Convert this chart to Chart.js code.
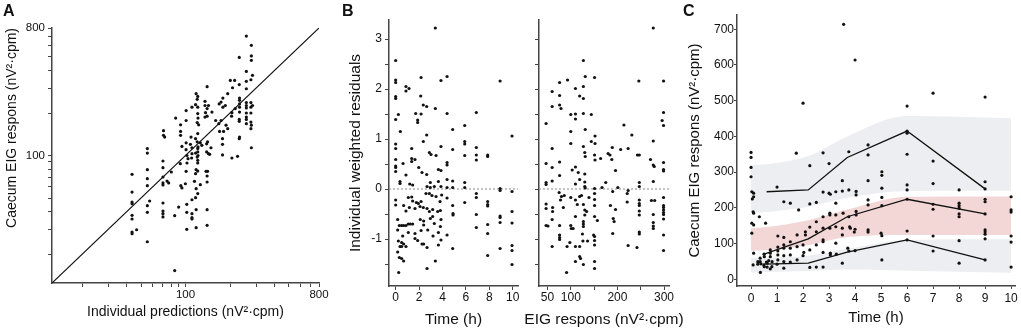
<!DOCTYPE html>
<html>
<head>
<meta charset="utf-8">
<script src="https://cdn.jsdelivr.net/npm/chart.js@4/dist/chart.umd.min.js"></script>
<style>
  html, body { margin: 0; padding: 0; background: #fff; }
  #wrap { position: relative; width: 1021px; height: 331px; overflow: hidden; font-family: "Liberation Sans", Arial, sans-serif; }
  #wrap canvas { position: absolute; left: 0; top: 0; }
  .tag { position: absolute; top: 3px; font-size: 16px; line-height: 16px; font-weight: bold; color: #111; }
</style>
</head>
<body>
<div id="wrap">
  <canvas id="chartA" width="1021" height="331"></canvas>
  <canvas id="chartB1" width="1021" height="331"></canvas>
  <canvas id="chartB2" width="1021" height="331"></canvas>
  <canvas id="chartC" width="1021" height="331"></canvas>
  <div class="tag" style="left:3px">A</div>
  <div class="tag" style="left:342px">B</div>
  <div class="tag" style="left:683px">C</div>
</div>
<script>
const FONT = "'Liberation Sans', Arial, sans-serif"
const INK = "#111"
const AXIS = "#444"

// ---- A: observed vs individual predictions (log axes) ----
const aRange = [12.5, 800]
const aTicks = [20, 30, 40, 50, 60, 70, 80, 90, 100, 200, 300, 400, 500, 600, 700, 800]
const aTickLabels = [100, 800]
const aPoints = [
  [43.5,73.6],[43.5,55.1],[43.5,46.8],[43.5,45.6],[43.5,37.7],[43.5,35.5],[43.5,28.7],[43.5,27.9],[46.7,29.8],
  [55.2,112],[55.2,104],[55.2,79.4],[55.2,68.5],[55.2,61.1],[55.2,44.1],[55.2,39.6],[55.2,24.5],[57.2,47.6],
  [71,150],[71,139],[72.3,135],[70.4,91.4],[70.4,82],[70.4,70.4],[70.4,63.9],[70.4,61.8],[70.4,46.1],[70.4,40.4],
  [70.4,38.7],[70.4,36.7],[75,65.9],[76.9,63.9],[80.2,76.4],[85.8,184],[84.5,37.5],[84.5,15.3],
  [92.6,165],[92.6,148],[92.6,139],[92.2,87.5],[93,61.1],[94.6,58.9],[89.9,43.1],[94.6,116],
  [101,177],[101,208],[99.8,63.1],[101,123],[100.9,110],[102.3,100],[104,95],[102.3,88.5],[101,77.3],[102,45.1],
  [102,39.6],[102,30],[109,135],[108,120],[110.6,113.5],[110.6,103],[110,96],[110.6,220],[110.6,48.6],[110.6,38.7],
  [110.6,36.3],[110.6,35.5],[117,131.5],[120,171],[122.7,165],[121,143],[120,125],[121,112],[121.5,115],[117,104],
  [121,106],[120,97.5],[121.5,100],[121,92.4],[121,88.5],[118,79.4],[121,77.6],[117,74.3],[115,65.6],[118,58.2],
  [121,53.7],[117,50.3],[118,41.3],[118,30.8],[118,274],[121,262],[120,250],[117,229],[121,220],[121,198],[121.5,184],
  [126,123],[129,118],[126,62.1],[135.5,242],[135.5,226],[136.6,201],[135.5,187],[140,190],[140,215],[143,226],
  [140,307],[139,121],[141,125],[139,106],[143,103],[145.7,102],[137.7,77.3],[141,77.3],[140,71.6],[140,64.9],
  [140,41.3],[140,32],[148.7,113.5],[151,203],[160,177],[168,168],[174,177],[170,148],[181,148],[178,131.5],
  [178,120],[178,101],[179,255],[174,239],[169,232],[179,220],[186,226],[188,164],[193,155],[193,274],
  [201,340],[215,340],[208,302],[217,215],[206,201],[205,190],[206,96],[225,98.6],
  [231,495],[231,318],[232,255],[232,246],[232,232],[232,220],[232,203],[231,180],[231,174.5],[232,135],[231,131.5],
  [258,701],[258,394],[258,335],[258,297],[258,237],[258,226],[258,217],[258,200],[258,187],[258,180],[258,168],
  [279,603],[279,507],[279,472],[277,344],[284,370],[277,237],[277,220],[284,226],[277,200],[277,172.6],[279,164],
  [277,155],[279,113.5]
]

// ---- B: individual weighted residuals ----
const bResRange = [-1.94, 3.38]
const bResTicks = [-1.5, -1, -0.5, 0, 0.5, 1, 1.5, 2, 2.5, 3]
const bResLabels = [-1, 0, 1, 2, 3]
const bTimeRange = [-0.57, 10.45]
const bTimeTicks = [0, 2, 4, 6, 8, 10]
const bEigRange = [31.8, 310.7]
const bEigTicks = [50, 100, 150, 200, 250, 300]
const bEigLabels = [50, 100, 200, 300]
const bByTime = [
  [3.39,3.22],[0,2.57],[0,2.18],[0,2.13],[0.88,2.05],[0.88,1.96],[1.14,2.01],[2.17,2.23],[3.87,2.17],[4.39,2.25],[8.92,2.16],
  [0,1.85],[0,1.81],[2.14,1.86],[2.36,1.68],[2.65,1.65],[3.39,1.61],[4.39,1.51],[6.89,1.53],[0.23,1.49],[0,1.39],
  [1.71,1.51],[1.88,1.38],[1.88,1.33],[2.17,1.5],[0.4,1.15],[4.87,1.19],[5.9,1.27],[9.94,1.06],[2.65,1.08],[2.36,0.95],
  [0,0.9],[0,0.81],[1.37,0.81],[3.87,0.85],[4.87,0.79],[5.9,0.95],[5.9,0.9],[6.89,0.83],[6.89,0.68],[6.89,0.58],
  [7.86,0.68],[7.86,0.65],[2.88,0.73],[3.02,0.69],[3.45,0.67],[5.9,0.67],[0,0.59],[0,0.46],[0,0.43],[0.63,0.51],
  [1.37,0.61],[1.37,0.55],[1.65,0.59],[1.97,0.43],[2.25,0.33],[2.65,0.29],[3.65,0.39],[3.87,0.37],[4.39,0.53],[4.39,0.48],
  [0,0.35],[0.88,0.28],[0.37,0.15],[0.37,0.11],[1.2,0.1],[1.45,0.08],[2.96,0.13],[3.65,0.15],[4.39,0.19],[4.87,0.16],
  [5.9,0.13],[5.9,0.03],[2.68,0.05],[2.96,0.03],[3.3,0.05],[3.87,0.05],[4.39,0.03],[4.87,0.03],[8.92,0.01],[8.92,-0.03],
  [9.94,-0.05],[0,-0.22],[0,-0.32],[0.68,-0.33],[1.08,-0.17],[1.37,-0.16],[1.45,-0.24],[1.77,-0.27],[1.94,-0.29],[2.17,-0.25],
  [2.59,-0.09],[2.88,-0.09],[3.1,-0.13],[3.45,-0.15],[3.79,-0.25],[3.93,-0.12],[4.39,-0.18],[4.87,-0.33],[5.9,-0.27],
  [6.89,-0.09],[6.89,-0.17],[7.86,-0.25],[7.86,-0.31],[7.86,-0.34],[0.88,-0.44],[1.17,-0.37],[1.65,-0.39],[2.08,-0.35],
  [2.36,-0.37],[2.68,-0.39],[2.88,-0.45],[3.16,-0.41],[3.59,-0.45],[3.82,-0.43],[4.9,-0.49],[4.9,-0.52],[6.89,-0.51],
  [8.92,-0.54],[8.92,-0.57],[9.94,-0.45],[0.17,-0.61],[0.31,-0.73],[0.51,-0.73],[0.68,-0.73],[0.88,-0.73],[1.08,-0.7],
  [1.25,-0.7],[1.45,-0.7],[2.1,-0.61],[2.39,-0.64],[2.39,-0.72],[2.96,-0.59],[3.16,-0.55],[3.3,-0.69],[3.87,-0.61],
  [3.82,-0.75],[7.86,-0.71],[8.92,-0.67],[9.94,-0.68],[0.17,-0.82],[0.6,-0.94],[1.08,-0.87],[1.65,-0.89],[2.17,-0.83],
  [2.74,-0.82],[3.19,-0.94],[3.65,-0.87],[4.39,-0.92],[6.89,-0.77],[7.86,-0.89],[0.23,-1.04],[0.51,-1.07],[0.68,-1.1],
  [0.37,-1.15],[0.51,-1.15],[0.88,-1.15],[1.65,-0.99],[1.88,-1.03],[2.25,-1.1],[2.39,-1.1],[2.68,-1.17],[3.87,-1.02],
  [3.65,-1.12],[4.87,-1.19],[8.92,-1.19],[9.94,-1.13],[9.94,-1.23],[0.17,-1.26],[0.31,-1.37],[0.51,-1.39],[0.68,-1.44],
  [2.68,-1.59],[3.39,-1.44],[7.86,-1.33],[9.94,-1.51],[0.26,-1.67]
]
const bByEig = [
  [277,3.22],[127,2.57],[131,2.25],[151,2.23],[93,2.18],[76,2.13],[246,2.16],[299,2.16],[60,1.95],[110,2.01],[127,2.05],
  [76,1.87],[119,1.86],[127,1.81],[60,1.65],[76,1.68],[79,1.61],[100,1.49],[110,1.5],[110,1.4],[127,1.51],[144,1.49],
  [47,1.31],[214,1.28],[299,1.53],[296,1.37],[299,1.27],[100,1.15],[131,1.19],[231,1.08],[152,1.06],[60,0.81],[100,0.91],
  [144,0.95],[152,0.91],[127,0.85],[277,0.96],[130,0.73],[131,0.65],[151,0.68],[152,0.58],[164,0.61],[180,0.71],[184,0.68],
  [188,0.59],[189,0.83],[207,0.79],[223,0.81],[243,0.68],[247,0.68],[271,0.59],[277,0.48],[279,0.45],[299,0.53],[299,0.39],
  [299,0.36],[196,0.37],[47,0.51],[60,0.43],[76,0.54],[76,0.27],[103,0.38],[110,0.44],[116,0.33],[130,0.3],[130,0.14],
  [130,0.05],[131,0.02],[47,0.13],[47,0.09],[60,0.16],[110,0.1],[119,0.19],[151,0.01],[151,-0.09],[167,0.03],[175,0.13],
  [201,0.03],[190,-0.05],[223,-0.03],[221,-0.09],[247,0.13],[247,0.05],[277,0.15],[75,-0.07],[80,-0.15],[78,-0.22],
  [86,-0.13],[47,-0.3],[47,-0.39],[61,-0.37],[61,-0.45],[84,-0.37],[100,-0.17],[110,-0.22],[114,-0.31],[119,-0.15],
  [123,-0.13],[127,-0.31],[130,-0.42],[134,-0.45],[130,-0.52],[139,-0.17],[151,-0.21],[151,-0.33],[185,-0.33],[196,-0.41],
  [221,-0.26],[247,-0.22],[247,-0.29],[247,-0.33],[247,-0.44],[247,-0.52],[273,-0.23],[280,-0.23],[299,-0.17],[299,-0.33],
  [299,-0.37],[299,-0.42],[299,-0.47],[299,-0.51],[299,-0.6],[277,-0.51],[47,-0.73],[51,-0.74],[60,-0.61],[76,-0.73],
  [76,-0.92],[76,-0.97],[76,-1.01],[100,-0.73],[101,-0.79],[105,-0.79],[110,-0.55],[127,-0.65],[127,-0.7],[127,-0.75],
  [151,-0.55],[157,-0.63],[191,-0.59],[193,-0.65],[190,-0.89],[277,-0.67],[277,-0.74],[277,-0.79],[247,-0.86],[247,-0.9],
  [299,-0.92],[60,-1.15],[92,-1.15],[98,-1.07],[110,-1.15],[119,-1.15],[125,-0.9],[126,-1.04],[136,-1.04],[149,-0.92],
  [151,-0.95],[151,-1.03],[151,-1.12],[223,-1.13],[242,-1.17],[299,-1.23],[110,-1.45],[119,-1.35],[121,-1.39],[127,-1.51],
  [151,-1.45],[151,-1.59],[91,-1.67]
]

// ---- C: visual predictive check ----
const cTimeRange = [-0.54, 10.15]
const cTimeTicks = [0, 1, 2, 3, 4, 5, 6, 7, 8, 9, 10]
const cObsRange = [-19, 740]
const cObsTicks = [0, 100, 200, 300, 400, 500, 600, 700]
const cBandTime = [0, 0.6, 2.2, 3.7, 6, 10]
const cUpperHi = [320, 322, 345, 400, 457, 451]
const cUpperLo = [185, 188, 203, 228, 247, 248]
const cMidHi = [143, 146, 165, 195, 231, 232]
const cMidLo = [80, 82, 95, 118, 124, 124]
const cLowHi = [59, 60, 66, 85, 110, 112]
const cLowLo = [19, 20, 23, 27, 24, 18]
const cHiTime = [0.6, 2.2, 3.7, 6, 9]
const cHiLine = [245, 250, 341, 415, 253]
const cMedTime = [0.5, 2.2, 3.7, 6, 9]
const cMedLine = [70, 113, 175, 224, 183]
const cLoTime = [0.5, 2.2, 3.7, 6, 9]
const cLoLine = [42, 45, 76, 110, 54]
const cPoints = [
  [0,355],[0,341],[0,313],[0,287],[0.03,245],[0.1,241],[0.05,225],[0.1,231],[0.08,189],[0.1,185],[0.03,157],[0.1,152],
  [0.03,129],[0.1,73],[0.08,40],[0.32,175],[0.56,157],[0.35,59],[0.35,49],[0.38,43],[0.36,19],[0.5,70],[0.51,63],
  [0.74,82],[0.74,73],[0.74,63],[0.81,49],[0.59,48],[0.68,52],[0.26,49],[0.26,42],[0.49,40],[0.51,35],[0.62,45],[0.62,34],
  [0.74,29],[0.8,35],[1.0,258],[1.03,121],[1.03,90],[1.03,79],[1.03,68],[1.03,54],[1.0,42],[1.26,217],[1.51,213],
  [1.26,117],[1.26,96],[1.26,87],[1.26,66],[1.26,49],[1.26,31],[1.51,105],[1.51,87],[1.51,68],[1.51,48],[1.74,353],
  [1.83,194],[1.77,124],[1.77,91],[1.77,54],[2.0,493],[2.0,96],[2.03,75],[2.0,66],[2.09,133],[2.09,124],[2.26,318],
  [2.26,211],[2.51,215],[2.26,146],[2.26,82],[2.26,33],[2.51,161],[2.51,133],[2.51,96],[2.51,34],[2.77,354],[2.77,244],
  [2.77,175],[2.77,143],[2.77,110],[2.77,105],[2.77,75],[2.77,34],[3.0,324],[3.0,241],[3.05,238],[3.03,185],[3.03,180],
  [3.03,143],[3.05,73],[3.05,68],[3.26,245],[3.26,213],[3.26,180],[3.26,147],[3.26,101],[3.28,70],[3.51,276],[3.51,247],
  [3.54,185],[3.51,143],[3.51,124],[3.51,45],[3.56,714],[3.76,357],[3.76,250],[3.72,87],[3.76,79],[3.76,175],[3.79,147],
  [3.82,143],[3.97,132],[4.0,614],[4.04,246],[4.04,236],[4.04,190],[4.04,180],[4.0,140],[4.0,80],[4.5,376],[4.5,348],
  [4.5,276],[4.5,222],[4.5,208],[4.5,138],[4.5,132],[5.03,301],[5.03,291],[5.03,255],[5.03,229],[5.03,206],[5.0,129],
  [5.03,122],[5.03,54],[6,485],[6,415],[6,409],[6,350],[6,264],[6,250],[6,224],[6,135],[6,110],[7,521],[7,331],[7,268],
  [7,210],[7,196],[7,121],[7,79],[8,250],[8,213],[8,206],[8,199],[8,183],[8,175],[8,108],[8,45],[9,510],[9,273],[9,253],
  [9,224],[9,217],[9,183],[9,138],[9,132],[9,126],[9,113],[9,54],[10,231],[10,194],[10,188],[10,121],[10,104],[10,34]
]

const pts = (list) => list.map(([x, y]) => ({ x, y }))
const pair = (xs, ys) => xs.map((x, i) => ({ x, y: ys[i] }))

function makeScale(o) {
  return {
    type: o.type || "linear",
    min: o.range[0],
    max: o.range[1],
    afterBuildTicks: (s) => { s.ticks = o.ticks.map((v) => ({ value: v })) },
    afterFit: (s) => {
      if (o.width != null) s.width = o.width
      if (o.height != null) s.height = o.height
    },
    border: { display: true, color: AXIS, width: 1.5 },
    grid: { display: true, drawOnChartArea: false, drawTicks: true, tickLength: o.tickLen, color: AXIS, lineWidth: 1 },
    ticks: {
      autoSkip: false, maxRotation: 0, minRotation: 0,
      padding: o.tickPad, color: INK,
      font: { family: FONT, size: o.fontSize },
      callback: (v) => (o.labels.includes(v) ? String(v) : "")
    },
    title: o.title
      ? { display: true, text: o.title, color: INK, align: o.titleAlign || "center",
          font: { family: FONT, size: o.titleSize }, padding: o.titlePad }
      : { display: false }
  }
}

// x title drawn without the scale-width squeeze that Chart.js applies to long titles
const looseTitle = {
  id: "looseTitle",
  afterDraw(chart, args, opts) {
    if (!opts.text) return
    const { ctx, chartArea } = chart
    ctx.save()
    ctx.font = `${opts.size}px ${FONT}`
    ctx.fillStyle = INK
    ctx.textAlign = "center"
    ctx.textBaseline = "middle"
    ctx.fillText(opts.text, (chartArea.left + chartArea.right) / 2, chart.scales.x.bottom - opts.lift)
    ctx.restore()
  }
}

const dots = (data) => ({ data, pointRadius: 1.6, pointBackgroundColor: INK, pointBorderWidth: 0, order: 0 })

function draw(id, datasets, x, y, padding, extra) {
  return new Chart(document.getElementById(id), {
    type: "scatter",
    data: { datasets },
    plugins: [looseTitle],
    options: {
      responsive: false,
      animation: false,
      devicePixelRatio: 1,
      events: [],
      layout: { padding },
      plugins: { legend: { display: false }, tooltip: { enabled: false }, looseTitle: extra || {} },
      scales: { x, y }
    }
  })
}

// A
draw("chartA",
  [
    dots(pts(aPoints)),
    { type: "line", data: pair(aRange, aRange), borderColor: INK, borderWidth: 1.2, pointRadius: 0, fill: false, order: 1 }
  ],
  makeScale({ type: "logarithmic", range: aRange, ticks: aTicks, labels: aTickLabels, height: 48, tickLen: 4, tickPad: 1,
    fontSize: 11.5, title: "Individual predictions (nV²·cpm)", titleSize: 14, titlePad: { top: 0, bottom: 10 } }),
  makeScale({ type: "logarithmic", range: aRange, ticks: aTicks, labels: aTickLabels, width: 52, tickLen: 4, tickPad: 3,
    fontSize: 11.5, title: "Caecum EIG respons (nV²·cpm)", titleSize: 14, titleAlign: "end", titlePad: { top: 4, bottom: 0 } }),
  { left: 0, top: 28, right: 702, bottom: 0 }
)

// B, residuals vs time
const zeroLine = (range) => ({
  type: "line", data: pair(range, [0, 0]), borderColor: "#8a8a8a", borderWidth: 1,
  borderDash: [2, 2], pointRadius: 0, fill: false, order: 1
})
draw("chartB1",
  [dots(pts(bByTime)), zeroLine(bTimeRange)],
  makeScale({ range: bTimeRange, ticks: bTimeTicks, labels: bTimeTicks, height: 45, tickLen: 4, tickPad: 0,
    fontSize: 12, title: "Time (h)", titleSize: 15.5, titlePad: { top: 0, bottom: 2 } }),
  makeScale({ range: bResRange, ticks: bResTicks, labels: bResLabels, width: 49, tickLen: 4, tickPad: 3,
    fontSize: 12, title: "Individual weighted residuals", titleSize: 15.5, titlePad: { top: 6, bottom: 0 } }),
  { left: 340, top: 20, right: 503, bottom: 0 }
)

// B, residuals vs response
draw("chartB2",
  [dots(pts(bByEig)), zeroLine(bEigRange)],
  makeScale({ range: bEigRange, ticks: bEigTicks, labels: bEigLabels, height: 45, tickLen: 4, tickPad: 0, fontSize: 12 }),
  makeScale({ range: bResRange, ticks: bResTicks, labels: [], width: 14, tickLen: 4, tickPad: 0, fontSize: 12 }),
  { left: 525, top: 20, right: 352, bottom: 0 },
  { text: "EIG respons (nV²·cpm)", size: 15.5, lift: 11 }
)

// C
const band = (hi, color) => ({
  type: "line", data: pair(cBandTime, hi), borderWidth: 0, pointRadius: 0,
  backgroundColor: color, fill: "+1", cubicInterpolationMode: "monotone", order: 3
})
const bandEdge = (lo) => ({
  type: "line", data: pair(cBandTime, lo), borderWidth: 0, pointRadius: 0,
  fill: false, cubicInterpolationMode: "monotone", order: 3
})
const pctLine = (xs, ys) => ({
  type: "line", data: pair(xs, ys), borderColor: INK, borderWidth: 1.3, pointRadius: 0, fill: false, order: 1
})
const GRAY = "rgb(237, 238, 241)"
const PINK = "rgb(243, 215, 215)"
draw("chartC",
  [
    dots(pts(cPoints)),
    pctLine(cHiTime, cHiLine),
    pctLine(cMedTime, cMedLine),
    pctLine(cLoTime, cLoLine),
    band(cUpperHi, GRAY), bandEdge(cUpperLo),
    band(cMidHi, PINK), bandEdge(cMidLo),
    band(cLowHi, GRAY), bandEdge(cLowLo)
  ],
  makeScale({ range: cTimeRange, ticks: cTimeTicks, labels: cTimeTicks, height: 45, tickLen: 3, tickPad: 2,
    fontSize: 12, title: "Time (h)", titleSize: 15, titlePad: { top: 0, bottom: 4 } }),
  makeScale({ range: cObsRange, ticks: cObsTicks, labels: cObsTicks, width: 57, tickLen: 3, tickPad: 0,
    fontSize: 12, title: "Caecum EIG respons (nV²·cpm)", titleSize: 15, titlePad: { top: 6, bottom: 0 } }),
  { left: 680, top: 15, right: 6, bottom: 0 }
)
</script>
</body>
</html>
